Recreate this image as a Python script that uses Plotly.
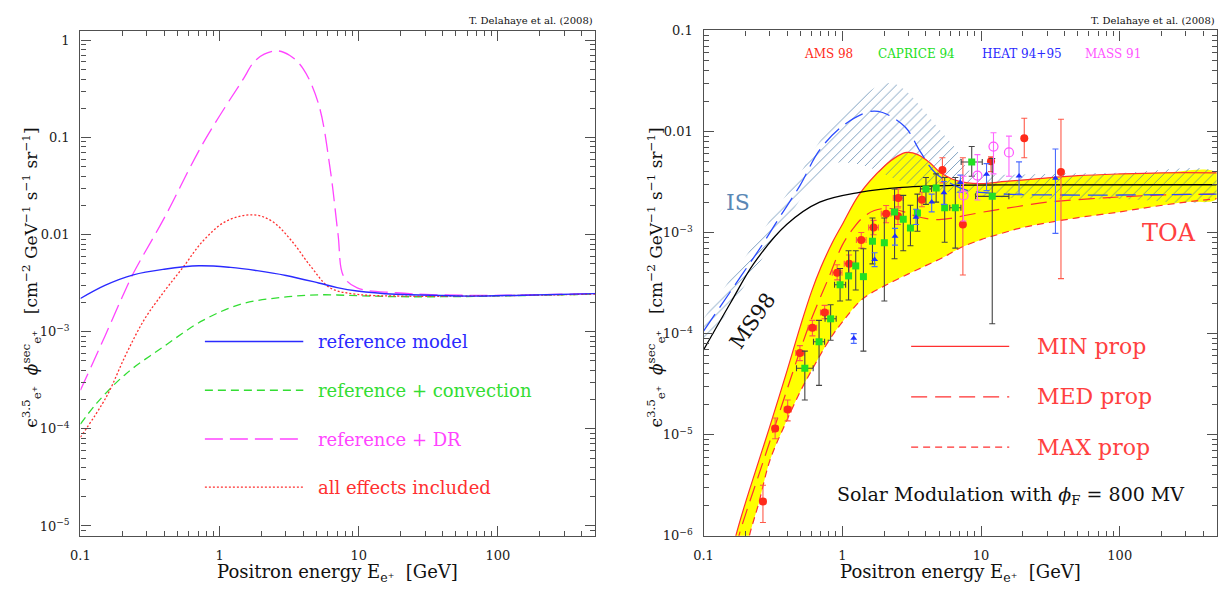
import numpy as np
import plotly.graph_objects as go

W, H = 1218, 590

# ---------------- left panel: secondary positron flux, propagation effects ----------------
ref_E = [0.1, 0.15, 0.24, 0.4, 0.71, 1.2, 1.86, 3.0, 5.15, 7.0, 9.75, 18.5, 40, 66, 150, 500]
ref_flux = [2.2e-3, 3.0e-3, 3.85e-3, 4.4e-3, 4.78e-3, 4.6e-3, 4.26e-3, 3.8e-3, 3.18e-3,
            2.85e-3, 2.63e-3, 2.43e-3, 2.36e-3, 2.33e-3, 2.38e-3, 2.47e-3]

conv_E = [0.1, 0.131, 0.212, 0.4, 0.76, 1.44, 2.72, 5.15, 10, 18.5, 50, 150, 500]
conv_flux = [1.12e-4, 1.84e-4, 3.68e-4, 7.1e-4, 1.31e-3, 1.93e-3, 2.25e-3, 2.4e-3,
             2.35e-3, 2.3e-3, 2.3e-3, 2.36e-3, 2.44e-3]

dr_E = [0.1, 0.15, 0.199, 0.24, 0.4, 0.76, 1.44, 1.86, 2.55, 3.2, 3.99, 5.15, 6.24,
        7.1, 7.8, 9.75, 18.5, 66, 500]
dr_flux = [2.5e-4, 9.0e-4, 2.25e-3, 4.0e-3, 1.48e-2, 8.7e-2, 0.376, 0.645, 0.78, 0.70,
           0.51, 0.22, 0.047, 0.0101, 3.7e-3, 2.83e-3, 2.52e-3, 2.37e-3, 2.48e-3]

all_E = [0.1, 0.154, 0.212, 0.29, 0.4, 0.55, 0.76, 1.11, 1.74, 2.39, 3.3, 4.54, 6.24,
         9.75, 20, 60, 500]
all_flux = [8.2e-5, 2.15e-4, 5.8e-4, 1.36e-3, 2.6e-3, 4.67e-3, 8.6e-3, 1.37e-2, 1.6e-2,
            1.37e-2, 8.6e-3, 4.67e-3, 2.83e-3, 2.43e-3, 2.33e-3, 2.33e-3, 2.44e-3]

left_labels = ["reference model", "reference + convection", "reference + DR",
               "all effects included"]

# ---------------- right panel: TOA band, IS band, data ----------------
min_E = [0.15, 0.171, 0.2, 0.25, 0.3, 0.4, 0.5, 0.6, 0.7, 0.85, 1.0, 1.33, 2.0, 2.5,
         2.92, 3.5, 4.28, 5.0, 6.25, 8, 10, 15, 25, 50, 100, 200, 500]
min_flux = [4.5e-7, 1e-6, 2.1e-6, 5.5e-6, 1.2e-5, 4.3e-5, 1.2e-4, 2.6e-4, 4.5e-4, 8e-4,
            1.2e-3, 2.4e-3, 4.5e-3, 5.7e-3, 6.2e-3, 5.9e-3, 4.9e-3, 4.0e-3, 3.37e-3,
            3.1e-3, 3.05e-3, 3.2e-3, 3.4e-3, 3.65e-3, 3.8e-3, 3.9e-3, 3.9e-3]

med_E = [0.16, 0.18, 0.2, 0.25, 0.3, 0.4, 0.5, 0.6, 0.8, 1.0, 1.2, 1.4, 1.7, 2.16, 2.8,
         3.4, 4.65, 6, 8, 12, 18, 30, 60, 100, 200, 500]
med_flux = [4.5e-7, 1e-6, 1.6e-6, 4e-6, 8.5e-6, 2.8e-5, 7e-5, 1.4e-4, 3.6e-4, 7.5e-4,
            1.1e-3, 1.4e-3, 1.65e-3, 1.73e-3, 1.6e-3, 1.45e-3, 1.34e-3, 1.38e-3,
            1.49e-3, 1.65e-3, 1.8e-3, 2.0e-3, 2.15e-3, 2.25e-3, 2.35e-3, 2.4e-3]

max_E = [0.19, 0.214, 0.25, 0.3, 0.38, 0.5, 0.6, 0.8, 1.0, 1.4, 2.0, 3.0, 4.0, 5.5, 7.0,
         10, 13.4, 20, 48, 100, 172, 300, 500]
max_flux = [4.5e-7, 1e-6, 2.1e-6, 5.5e-6, 1.2e-5, 2.7e-5, 4.3e-5, 8.5e-5, 1.3e-4, 2.2e-4,
            2.95e-4, 3.9e-4, 4.7e-4, 5.8e-4, 7e-4, 8.5e-4, 9.6e-4, 1.12e-3, 1.39e-3,
            1.6e-3, 1.8e-3, 2.0e-3, 2.16e-3]

is_up_E = [0.1, 0.133, 0.185, 0.257, 0.356, 0.495, 0.687, 1.0, 1.4, 1.8, 2.3, 2.8, 3.5,
           4.5, 5.5, 6.7, 7.5, 8.5, 12, 30, 100, 500]
is_up_flux = [1.4e-4, 2.5e-4, 4.9e-4, 9.5e-4, 1.9e-3, 3.8e-3, 8e-3, 1.5e-2, 2.2e-2,
              2.8e-2, 3.0e-2, 2.6e-2, 1.9e-2, 1.25e-2, 9e-3, 6.5e-3, 4.8e-3, 4.0e-3,
              3.75e-3, 3.8e-3, 3.9e-3, 3.9e-3]
is_lo_E = [0.1, 0.133, 0.185, 0.257, 0.356, 0.495, 0.687, 0.85, 1.1, 1.5, 2.0, 3.0, 5.0,
           10, 30, 100, 500]
is_lo_flux = [7.5e-5, 1.3e-4, 2.6e-4, 5.2e-4, 1.05e-3, 2.1e-3, 3.8e-3, 4.8e-3, 4.9e-3,
              4.5e-3, 3.8e-3, 3.0e-3, 2.6e-3, 2.3e-3, 2.15e-3, 2.15e-3, 2.2e-3]

is_med_E = [0.1, 0.133, 0.185, 0.257, 0.356, 0.495, 0.687, 1.01, 1.56, 1.95, 2.85, 3.65,
            4.67, 6.49, 8.07, 15, 40, 100, 500]
is_med_flux = [1.06e-4, 1.88e-4, 3.66e-4, 7.1e-4, 1.44e-3, 2.91e-3, 6.56e-3, 1.14e-2,
               1.57e-2, 1.54e-2, 1.1e-2, 6.3e-3, 3.9e-3, 2.91e-3, 2.6e-3, 2.4e-3,
               2.35e-3, 2.35e-3, 2.4e-3]

ms98_E = [0.1, 0.157, 0.23, 0.397, 0.687, 1.33, 2.7, 8.07, 30, 500]
ms98_flux = [6.9e-5, 2.03e-4, 4.92e-4, 1.2e-3, 2.0e-3, 2.5e-3, 2.8e-3, 2.95e-3, 2.96e-3,
             2.97e-3]

# AMS 98
ams_E = [0.268, 0.328, 0.404, 0.495, 0.609, 0.746, 0.918, 1.12, 1.37, 1.68, 2.07, 2.53,
         2.52, 3.75, 5.27, 7.4, 11.8, 20.5, 37.7]
ams_flux = [2.18e-6, 1.15e-5, 1.77e-5, 6.43e-5, 1.14e-4, 1.62e-4, 4.0e-4, 4.92e-4,
            8.45e-4, 1.12e-3, 1.53e-3, 2.19e-3, 1.46e-3, 2.11e-3, 4.15e-3, 1.2e-3,
            5.07e-3, 8.57e-3, 3.97e-3]
ams_lo = [1.35e-6, 9.1e-6, 1.37e-5, 5.4e-5, 9.5e-5, 1.4e-4, 3.4e-4, 4.0e-4, 7.0e-4,
          9.5e-4, 1.25e-3, 1.8e-3, 1.2e-3, 1.8e-3, 3.1e-3, 3.8e-4, 4.0e-3, 5.5e-3, 3.5e-4]
ams_hi = [3.16e-6, 1.46e-5, 2.2e-5, 7.6e-5, 1.35e-4, 1.9e-4, 4.8e-4, 6.0e-4, 1.0e-3,
          1.32e-3, 1.85e-3, 2.7e-3, 1.75e-3, 2.5e-3, 5.5e-3, 5.5e-3, 5.6e-3, 1.35e-2,
          1.32e-2]
ams_dex = [0.02, 0.02, 0.025, 0.03, 0.03, 0.03, 0.035, 0.035, 0.035, 0.035, 0.035, 0.035,
           0.0, 0.0, 0.0, 0.0, 0.0, 0.0, 0.0]

# CAPRICE 94
cap_E = [0.537, 0.68, 0.824, 0.964, 1.11, 1.25, 1.42, 1.65, 2.01, 2.38, 2.75, 3.1, 3.48,
         4.01, 4.75, 5.47, 6.53, 8.57, 12.05]
cap_flux = [4.54e-5, 8.3e-5, 1.4e-4, 3.04e-4, 3.72e-4, 4.67e-4, 3.66e-4, 8.2e-4, 7.9e-4,
            1.6e-3, 1.35e-3, 1.11e-3, 1.56e-3, 2.7e-3, 2.76e-3, 1.76e-3, 1.76e-3,
            4.99e-3, 2.28e-3]
cap_lo = [2.2e-5, 3.07e-5, 8.6e-5, 2.1e-4, 2.15e-4, 2.7e-4, 6.7e-5, 4.9e-4, 2.1e-4,
          5.5e-4, 6.6e-4, 7.4e-4, 1.03e-3, 1.9e-3, 2.0e-3, 8e-4, 7e-4, 3.6e-3, 1.25e-4]
cap_hi = [6.7e-5, 1.35e-4, 1.93e-4, 4.4e-4, 6.6e-4, 6.6e-4, 6.9e-4, 1.39e-3, 1.39e-3,
          2.7e-3, 2.33e-3, 1.86e-3, 2.4e-3, 3.5e-3, 3.8e-3, 3.5e-3, 3.5e-3, 7.1e-3, 5.4e-3]
cap_dex = [0.06, 0.04, 0.04, 0.04, 0.0, 0.0, 0.0, 0.0, 0.0, 0.0, 0.0, 0.0, 0.0, 0.04,
           0.0, 0.0, 0.04, 0.076, 0.12]

# HEAT 94+95
heat_E = [1.21, 1.71, 2.40, 3.4, 4.41, 5.4, 7.1, 10.96, 18.8, 34.4]
heat_flux = [8.97e-5, 5.42e-4, 9.2e-4, 1.42e-3, 2.0e-3, 2.47e-3, 3.13e-3, 3.77e-3,
             3.63e-3, 3.44e-3]
heat_lo = [8.0e-5, 4.6e-4, 7.5e-4, 1.2e-3, 1.6e-3, 1.9e-3, 2.5e-3, 2.6e-3, 2.4e-3, 9.8e-4]
heat_hi = [1.0e-4, 6.3e-4, 1.1e-3, 1.7e-3, 2.4e-3, 3.2e-3, 3.7e-3, 4.8e-3, 5.0e-3, 6.7e-3]

# MASS 91
mass_E = [7.48, 9.42, 12.3, 15.9]
mass_flux = [2.33e-3, 3.66e-3, 7.08e-3, 6.2e-3]
mass_lo = [1.3e-3, 2.1e-3, 3.8e-3, 3.6e-3]
mass_hi = [3.6e-3, 5.9e-3, 9.7e-3, 9.0e-3]

exp_names = ["AMS 98", "CAPRICE 94", "HEAT 94+95", "MASS 91"]
prop_labels = ["MIN prop", "MED prop", "MAX prop"]

left_yticks = [1e-5, 1e-4, 1e-3, 1e-2, 1e-1, 1]
left_yticktext = ["10<sup>−5</sup>", "10<sup>−4</sup>", "10<sup>−3</sup>", "0.01", "0.1", "1"]
right_yticks = [1e-6, 1e-5, 1e-4, 1e-3, 1e-2, 1e-1]
right_yticktext = ["10<sup>−6</sup>", "10<sup>−5</sup>", "10<sup>−4</sup>",
                   "10<sup>−3</sup>", "0.01", "0.1"]
xticks = [0.1, 1, 10, 100]
xticktext = ["0.1", "1", "10", "100"]

# ---------------- colours / fonts ----------------
FONT = "DejaVu Serif"
C_BLUE = "#2a2aff"
C_GREEN = "#33dd33"
C_MAG = "#ff44ff"
C_RED = "#ff3030"
C_AX = "#505050"
C_HATCH = "#4a7aa6"


def pxx(x):
    return x / W


def pxy(y):
    return 1 - y / H


def yerr(v, lo, hi):
    return dict(type="data", symmetric=False,
                array=[h - c for c, h in zip(v, hi)],
                arrayminus=[c - l for c, l in zip(v, lo)])


def xerr(e, dex):
    return dict(type="data", symmetric=False,
                array=[x * (10 ** d - 1) for x, d in zip(e, dex)],
                arrayminus=[x * (1 - 10 ** -d) for x, d in zip(e, dex)])


fig = go.Figure()

# ---- left panel curves
L = dict(xaxis="x", yaxis="y", mode="lines", showlegend=False, hoverinfo="skip")
fig.add_trace(go.Scatter(x=conv_E, y=conv_flux, line=dict(color=C_GREEN, width=1.3, dash="8px,5px", shape="spline"), **L))
fig.add_trace(go.Scatter(x=dr_E, y=dr_flux, line=dict(color=C_MAG, width=1.3, dash="18px,7px", shape="spline"), **L))
fig.add_trace(go.Scatter(x=all_E, y=all_flux, line=dict(color=C_RED, width=1.3, dash="2px,2px", shape="spline"), **L))
fig.add_trace(go.Scatter(x=ref_E, y=ref_flux, line=dict(color=C_BLUE, width=1.4, shape="spline"), **L))

# ---- right panel: TOA band (yellow) between MIN and MAX
R = dict(xaxis="x2", yaxis="y2", showlegend=False, hoverinfo="skip")
fig.add_trace(go.Scatter(x=min_E + max_E[::-1], y=min_flux + max_flux[::-1],
                         mode="lines", fill="toself", fillcolor="#ffff00",
                         line=dict(width=0, shape="spline"), **R))
# IS band (hatched)
fig.add_trace(go.Scatter(x=is_up_E + is_lo_E[::-1], y=is_up_flux + is_lo_flux[::-1],
                         mode="lines", fill="toself", fillcolor="rgba(0,0,0,0)",
                         fillpattern=dict(shape="/", fgcolor=C_HATCH, fgopacity=1,
                                          bgcolor="rgba(0,0,0,0)", size=7, solidity=0.1),
                         line=dict(width=0, shape="spline"), **R))
fig.add_trace(go.Scatter(x=max_E, y=max_flux, mode="lines",
                         line=dict(color=C_RED, width=1.2, dash="7px,5px", shape="spline"), **R))
fig.add_trace(go.Scatter(x=med_E, y=med_flux, mode="lines",
                         line=dict(color=C_RED, width=1.2, dash="16px,8px", shape="spline"), **R))
fig.add_trace(go.Scatter(x=min_E, y=min_flux, mode="lines",
                         line=dict(color=C_RED, width=1.2, shape="spline"), **R))
fig.add_trace(go.Scatter(x=ms98_E, y=ms98_flux, mode="lines",
                         line=dict(color="black", width=1.3, shape="spline"), **R))
fig.add_trace(go.Scatter(x=is_med_E, y=is_med_flux, mode="lines",
                         line=dict(color="#2b4cff", width=1.3, dash="20px,8px", shape="spline"), **R))

# ---- data points
fig.add_trace(go.Scatter(x=ams_E, y=ams_flux, mode="markers",
                         marker=dict(symbol="circle", size=8, color="#ff2a1a", line=dict(width=0)),
                         error_y=dict(**yerr(ams_flux, ams_lo, ams_hi), color="#ff5a4a", thickness=1.1, width=3),
                         error_x=dict(**xerr(ams_E, ams_dex), color="#ff5a4a", thickness=1.1, width=3), **R))
fig.add_trace(go.Scatter(x=cap_E, y=cap_flux, mode="markers",
                         marker=dict(symbol="square", size=7, color="#22e022", line=dict(width=0)),
                         error_y=dict(**yerr(cap_flux, cap_lo, cap_hi), color="#444444", thickness=1.1, width=3),
                         error_x=dict(**xerr(cap_E, cap_dex), color="#444444", thickness=1.1, width=3), **R))
fig.add_trace(go.Scatter(x=heat_E, y=heat_flux, mode="markers",
                         marker=dict(symbol="triangle-up", size=6, color="#1f2fff", line=dict(width=0)),
                         error_y=dict(**yerr(heat_flux, heat_lo, heat_hi), color="#4a6aff", thickness=1.1, width=3), **R))
fig.add_trace(go.Scatter(x=mass_E, y=mass_flux, mode="markers",
                         marker=dict(symbol="circle-open", size=9, color="#ff55ff", line=dict(width=1.2)),
                         error_y=dict(**yerr(mass_flux, mass_lo, mass_hi), color="#ff66ff", thickness=1.1, width=3), **R))

# ---------------- axes ----------------
minor_x = [m * 10.0 ** k for k in range(-1, 3) for m in range(2, 10)]
minor_yl = [m * 10.0 ** k for k in range(-6, 1) for m in range(2, 10)]
minor_yr = [m * 10.0 ** k for k in range(-7, 0) for m in range(2, 10)]


def axis(**kw):
    base = dict(type="log", showgrid=False, zeroline=False, showline=True, linecolor=C_AX,
                linewidth=1.4, mirror="ticks", ticks="inside", ticklen=10, tickwidth=1.2,
                tickcolor=C_AX, tickfont=dict(family=FONT, size=13, color="#222"),
                tickmode="array", ticklabelstandoff=7)
    base.update(kw)
    return base


def minor(vals):
    return dict(tickmode="array", tickvals=vals, ticks="inside", ticklen=5,
                tickcolor=C_AX, tickwidth=1)


fig.update_layout(
    width=W, height=H, margin=dict(l=0, r=0, t=0, b=0),
    paper_bgcolor="white", plot_bgcolor="white", showlegend=False,
    xaxis=axis(domain=[pxx(71), pxx(590)], range=[-1, np.log10(500)], anchor="y",
               tickvals=xticks, ticktext=xticktext, minor=minor(minor_x)),
    yaxis=axis(domain=[pxy(542.5), pxy(24.3)], range=[-5.1, 0.1], anchor="x",
               tickvals=left_yticks, ticktext=left_yticktext, minor=minor(minor_yl)),
    xaxis2=axis(domain=[pxx(699.3), pxx(1216.7)], range=[-1, np.log10(500)], anchor="y2",
                tickvals=xticks, ticktext=xticktext, minor=minor(minor_x)),
    yaxis2=axis(domain=[pxy(542.5), pxy(24.0)], range=[-6, -1], anchor="x2",
                tickvals=right_yticks, ticktext=right_yticktext, minor=minor(minor_yr)),
)

# ---------------- text ----------------
ann = []


def text(x, y, s, size, color="#111", xanchor="center", angle=0):
    ann.append(dict(x=pxx(x), y=pxy(y), xref="paper", yref="paper", text=s, showarrow=False,
                    xanchor=xanchor, yanchor="middle", textangle=angle,
                    font=dict(family=FONT, size=size, color=color)))


ytitle = ("ϵ<sup>3.5</sup><sub>e⁺</sub>  <i>ϕ</i><sup>sec</sup><sub>e⁺</sub>   "
          "[cm<sup>−2</sup> GeV<sup>−1</sup> s<sup>−1</sup> sr<sup>−1</sup>]")
xtitle = "Positron energy E<sub>e⁺</sub>  [GeV]"
credit = "T. Delahaye et al. (2008)"

text(22, 278, ytitle, 17, angle=-90)
text(652, 278, ytitle, 17, angle=-90)
text(330, 581, xtitle, 18)
text(958, 581, xtitle, 18)
text(590, 14, credit, 10, xanchor="right")
text(1217, 14, credit, 10, xanchor="right")

# left legend
leg_y = [343.3, 393.3, 443.3, 492.7]
leg_col = [C_BLUE, C_GREEN, C_MAG, C_RED]
leg_dash = ["solid", "8px,5px", "18px,7px", "2px,2px"]
shapes = []
for yy, col, dsh, lab in zip(leg_y, leg_col, leg_dash, left_labels):
    shapes.append(dict(type="line", xref="paper", yref="paper", x0=pxx(196.5), x1=pxx(295.7),
                       y0=pxy(yy), y1=pxy(yy), line=dict(color=col, width=1.4, dash=dsh)))
    text(309, yy, lab, 18, color=col, xanchor="left")

# right legend
rleg_y = [348.3, 400.0, 451.7]
rleg_dash = ["solid", "16px,8px", "7px,5px"]
for yy, dsh, lab in zip(rleg_y, rleg_dash, prop_labels):
    shapes.append(dict(type="line", xref="paper", yref="paper", x0=pxx(908.6), x1=pxx(1007.5),
                       y0=pxy(yy), y1=pxy(yy), line=dict(color=C_RED, width=1.3, dash=dsh)))
    text(1033, yy, lab, 22, color="#ff4040", xanchor="left")

# experiment names
exp_x = [825.3, 914.4, 1020.8, 1111.7]
exp_col = ["#ff2a1a", "#22e022", "#2a2aff", "#ff55ff"]
for xx, col, lab in zip(exp_x, exp_col, exp_names):
    text(xx, 48.3, lab, 12, color=col)

text(734.5, 201, "IS", 22, color="#5a87b5")
text(748.6, 321.7, "MS98", 21, color="#111", angle=-55)
text(1169, 232, "TOA", 24, color="#ff4040")
text(1008.4, 501.7, "Solar Modulation with <i>ϕ</i><sub>F</sub> = 800 MV", 19, color="#111")

fig.update_layout(annotations=ann, shapes=shapes)
fig.write_html("out.html")
